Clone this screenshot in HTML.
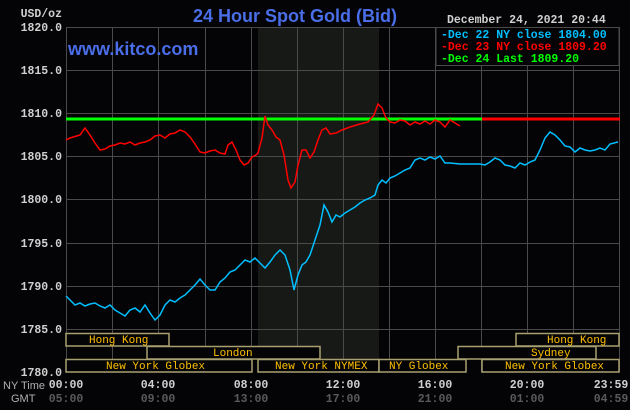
<!DOCTYPE html>
<html><head><style>
html,body{margin:0;padding:0;background:#040406;}
svg{display:block}
.m{font-family:"Liberation Mono",monospace;font-size:11.5px;font-weight:bold}
.s{font-family:"Liberation Mono",monospace;font-size:11px;fill:#ffc000}
</style></head><body>
<svg width="630" height="410" viewBox="0 0 630 410" xmlns="http://www.w3.org/2000/svg">
<rect width="630" height="410" fill="#040406"/>
<rect x="258" y="27" width="121" height="345" fill="#171916"/>
<g stroke="#4a4a4a" stroke-width="1">
<line x1="66" y1="27.5" x2="620" y2="27.5"/>
<line x1="66" y1="70.5" x2="620" y2="70.5"/>
<line x1="66" y1="113.5" x2="620" y2="113.5"/>
<line x1="66" y1="156.5" x2="620" y2="156.5"/>
<line x1="66" y1="199.5" x2="620" y2="199.5"/>
<line x1="66" y1="243.5" x2="620" y2="243.5"/>
<line x1="66" y1="286.5" x2="620" y2="286.5"/>
<line x1="66" y1="329.5" x2="620" y2="329.5"/>
<line x1="66.5" y1="27" x2="66.5" y2="372"/>
<line x1="112.5" y1="27" x2="112.5" y2="372"/>
<line x1="158.5" y1="27" x2="158.5" y2="372"/>
<line x1="205.5" y1="27" x2="205.5" y2="372"/>
<line x1="251.5" y1="27" x2="251.5" y2="372"/>
<line x1="297.5" y1="27" x2="297.5" y2="372"/>
<line x1="343.5" y1="27" x2="343.5" y2="372"/>
<line x1="389.5" y1="27" x2="389.5" y2="372"/>
<line x1="435.5" y1="27" x2="435.5" y2="372"/>
<line x1="481.5" y1="27" x2="481.5" y2="372"/>
<line x1="527.5" y1="27" x2="527.5" y2="372"/>
<line x1="573.5" y1="27" x2="573.5" y2="372"/>
<line x1="619.5" y1="27" x2="619.5" y2="372"/>
</g>
<line x1="66" y1="119" x2="482" y2="119" stroke="#00ff00" stroke-width="3"/>
<line x1="482" y1="119" x2="620" y2="119" stroke="#ff0000" stroke-width="3"/>
<polyline fill="none" stroke="#ff0000" stroke-width="1.5" points="66,140 70,138 80,135 85,128 90,135 95,143 100,150 105,149 110,146 115,145 120,143 125,144 130,142 135,145 140,143 145,142 150,140 155,136 160,135 165,138 170,134 175,133 180,130 185,132 190,137 195,144 200,152 205,153 210,151 215,150 220,153 225,154 228,145 232,142 236,150 240,160 244,165 248,163 252,157 256,155 258,153 262,138 265,116 268,125 272,130 276,137 280,140 284,155 288,180 291,188 295,182 298,165 302,150 306,150 310,158 314,152 318,140 322,130 326,128 330,134 336,133 342,130 350,127 360,124 368,122 374,115 378,104 382,108 386,118 390,122 395,123 400,120 405,121 410,125 415,122 420,124 425,121 430,124 435,120 440,122 445,127 450,120 455,123 460,126"/>
<polyline fill="none" stroke="#00bfff" stroke-width="1.5" points="66,296 70,300 75,305 80,303 85,306 90,304 95,303 100,306 105,308 110,305 115,310 120,313 125,316 130,310 135,308 140,312 145,305 150,313 155,320 160,315 165,305 170,300 175,302 180,298 185,295 190,290 195,285 200,279 205,285 210,290 215,290 220,282 225,278 230,272 235,270 240,265 245,260 250,262 255,258 260,263 265,268 270,262 275,255 280,250 285,255 290,270 294,290 298,275 302,265 306,262 310,255 315,240 320,225 324,205 328,212 332,222 336,215 340,217 345,213 350,210 355,207 360,203 365,200 370,198 375,195 378,185 382,180 386,183 390,178 395,176 400,173 405,170 410,168 415,160 420,158 425,160 430,157 435,159 440,156 445,163 450,163 460,164 470,164 480,164 485,165 490,162 495,158 500,160 505,165 510,166 515,168 520,163 525,165 530,162 535,160 540,150 545,138 550,132 555,135 560,140 565,146 570,147 575,152 580,148 585,150 590,151 595,150 600,148 605,150 610,144 618,142"/>
<!-- sessions -->
<g fill="#040406" stroke="#a8a070" stroke-width="1.5">
<rect x="66" y="333.5" width="103" height="12.5"/>
<rect x="147" y="346.5" width="173" height="12.5"/>
<rect x="66" y="359.5" width="186" height="12.5"/>
<rect x="258" y="359.5" width="121" height="12.5"/>
<rect x="379" y="359.5" width="87" height="12.5"/>
<rect x="482" y="359.5" width="137" height="12.5"/>
<rect x="458" y="346.5" width="138" height="12.5"/>
<rect x="516" y="333.5" width="103" height="12.5"/>
</g>
<text class="s" x="89" y="343">Hong Kong</text>
<text class="s" x="213" y="356">London</text>
<text class="s" x="106" y="369">New York Globex</text>
<text class="s" x="275" y="369">New York NYMEX</text>
<text class="s" x="389" y="369">NY Globex</text>
<text class="s" x="505" y="369">New York Globex</text>
<text class="s" x="531" y="356">Sydney</text>
<text class="s" x="547" y="343">Hong Kong</text>
<!-- legend -->
<rect x="436" y="27.5" width="183" height="38" fill="#040406" stroke="#4a4a4a"/>
<text class="m" x="447" y="23" fill="#d0d0d0">December 24, 2021 20:44</text>
<text class="m" x="441" y="38" fill="#00bfff">-Dec 22 NY close 1804.00</text>
<text class="m" x="441" y="50" fill="#ff0000">-Dec 23 NY close 1809.20</text>
<text class="m" x="441" y="62" fill="#00ff00">-Dec 24 Last 1809.20</text>
<!-- titles -->
<text x="295" y="22" text-anchor="middle" font-family="Liberation Sans,sans-serif" font-size="18" font-weight="bold" fill="#4a6ee8">24 Hour Spot Gold (Bid)</text>
<text x="68" y="55" font-family="Liberation Sans,sans-serif" font-size="18" font-weight="bold" fill="#4a6ee8">www.kitco.com</text>
<!-- y axis -->
<g class="m" fill="#d0d0d0" text-anchor="end">
<text x="62" y="17">USD/oz</text>
<text x="62" y="31">1820.0</text>
<text x="62" y="74">1815.0</text>
<text x="62" y="117">1810.0</text>
<text x="62" y="160">1805.0</text>
<text x="62" y="203">1800.0</text>
<text x="62" y="247">1795.0</text>
<text x="62" y="290">1790.0</text>
<text x="62" y="333">1785.0</text>
<text x="62" y="376">1780.0</text>
</g>
<text x="3" y="389" font-family="Liberation Sans,sans-serif" font-size="11" fill="#b0b0b0">NY Time</text>
<text x="11" y="402" font-family="Liberation Sans,sans-serif" font-size="11" fill="#b0b0b0">GMT</text>
<g class="m" text-anchor="middle" fill="#d0d0d0">
<text x="66" y="388">00:00</text><text x="158" y="388">04:00</text><text x="251" y="388">08:00</text><text x="343" y="388">12:00</text><text x="435" y="388">16:00</text><text x="527" y="388">20:00</text><text x="611" y="388">23:59</text>
</g>
<g class="m" text-anchor="middle" fill="#5a5a5a">
<text x="66" y="402">05:00</text><text x="158" y="402">09:00</text><text x="251" y="402">13:00</text><text x="343" y="402">17:00</text><text x="435" y="402">21:00</text><text x="527" y="402">01:00</text><text x="611" y="402">04:59</text>
</g>
</svg>
</body></html>
